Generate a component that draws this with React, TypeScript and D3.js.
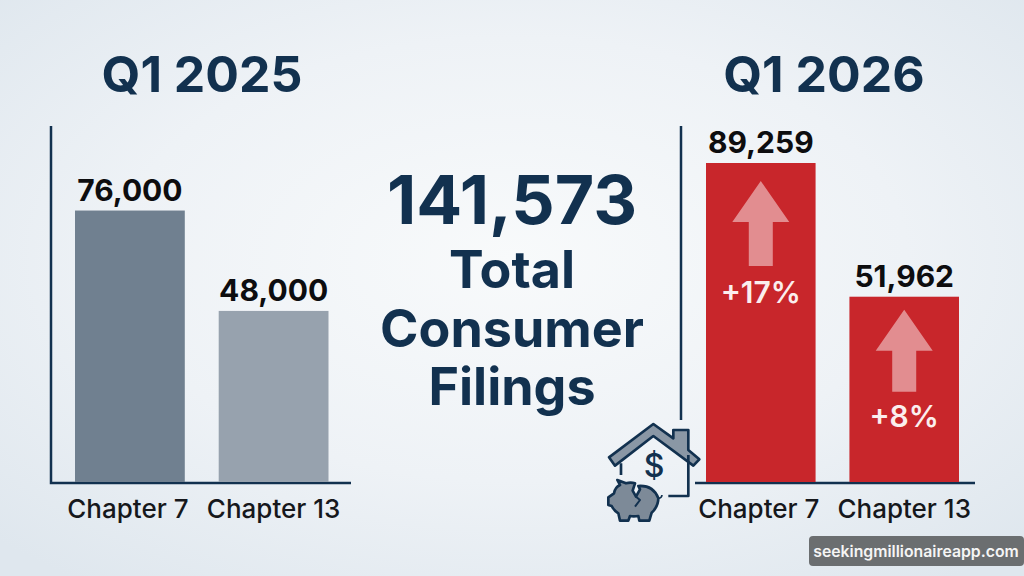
import * as d3 from 'd3';

const chapters = ['Chapter 7', 'Chapter 13'];
const filings2025 = [76000, 48000];
const filings2026 = [89259, 51962];
const changes2026 = ['+17%', '+8%'];
const colors2025 = ['#708090', '#97a2ae'];
const totalLines = ['Total', 'Consumer', 'Filings'];

const NAVY = '#12314f';
const FONT = 'Inter, "Noto Sans", sans-serif';
const fmt = d3.format(',');

const y = d3.scaleLinear().domain([0, 100000]).range([483, 124.5]);
const x2025 = d3.scaleBand().domain(chapters).range([75, 328.5]).paddingInner(0.236);
const x2026 = d3.scaleBand().domain(chapters).range([706, 959]).paddingInner(0.236);

// icon drawn in a 3x space, scaled down at the group level
function HouseIcon() {
  return (
    <g transform="translate(590,400) scale(0.3333)" stroke={NAVY} strokeWidth={8} strokeLinejoin="round" fill="none">
      <path d="M57,172 L190,72 L250,115 L250,90 L295,90 L295,150 L328,178 L310,197 L190,108 L75,197 Z" fill="#8a97a5" />
      <path d="M93,190 L93,225 M295,165 L295,288 L235,288" />
      <text x={192} y={232} fontFamily={FONT} fontSize={96} fontWeight={500} textAnchor="middle" fill={NAVY} stroke="none">$</text>
      <path d="M82,240 L108,250 Q122,246 135,250 L128,272 L138,290 L150,268 L145,258 Q190,255 205,295 Q205,320 185,338 L178,362 L148,362 L145,348 Q130,350 120,348 L115,362 L90,362 L85,340 Q72,332 65,318 L55,315 L55,292 L72,280 Q75,262 90,255 Z" fill="#7d8a98" />
      <path d="M138,290 L150,300 L135,320" strokeWidth={6} />
      <path d="M205,295 Q215,295 216,285" strokeWidth={5} />
    </g>
  );
}

function Arrow({ cx, top, bottom }: { cx: number; top: number; bottom: number }) {
  const path = d3.path();
  const head = 41;
  path.moveTo(cx, top);
  path.lineTo(cx + 28.5, top + head);
  path.lineTo(cx + 12, top + head);
  path.lineTo(cx + 12, bottom);
  path.lineTo(cx - 12, bottom);
  path.lineTo(cx - 12, top + head);
  path.lineTo(cx - 28.5, top + head);
  path.closePath();
  return <path d={path.toString()} fill="#ffffff" fillOpacity={0.48} />;
}

export default function App() {
  return (
    <svg width={1024} height={576} style={{ position: 'absolute', left: 0, top: 0 }} fontFamily={FONT}>
      <defs>
        <radialGradient id="bg" cx="50%" cy="45%" r="70%">
          <stop offset="0%" stopColor="#f8fafb" />
          <stop offset="55%" stopColor="#eef2f6" />
          <stop offset="100%" stopColor="#dfe7ee" />
        </radialGradient>
      </defs>
      <rect width={1024} height={576} fill="url(#bg)" />

      <text x={202} y={92} textAnchor="middle" fontSize={50} fontWeight={700} fill={NAVY}>Q1 2025</text>
      <text x={824} y={92} textAnchor="middle" fontSize={50} fontWeight={700} fill={NAVY}>Q1 2026</text>

      {/* left panel */}
      <path d="M51,126 V483 H351" fill="none" stroke={NAVY} strokeWidth={2.5} />
      {chapters.map((c, i) => (
        <g key={c}>
          <rect x={x2025(c)} y={y(filings2025[i])} width={x2025.bandwidth()} height={y(0) - y(filings2025[i]) - 1} fill={colors2025[i]} />
          <text x={x2025(c)! + x2025.bandwidth() / 2} y={y(filings2025[i]) - 10} textAnchor="middle" fontSize={30} fontWeight={700} fill="#0d0d0f">{fmt(filings2025[i])}</text>
          <text x={x2025(c)! + x2025.bandwidth() / 2 - (i ? 0 : 2)} y={518} textAnchor="middle" fontSize={26} fontWeight={500} fill="#16181c">{c}</text>
        </g>
      ))}

      {/* center total */}
      <text x={512} y={224} textAnchor="middle" fontSize={68} fontWeight={700} fill={NAVY}>141,573</text>
      {totalLines.map((line, i) => (
        <text key={line} x={512} y={288 + i * 58.5} textAnchor="middle" fontSize={52} fontWeight={700} fill={NAVY}>{line}</text>
      ))}

      {/* right panel */}
      <path d="M681,126 V420" fill="none" stroke={NAVY} strokeWidth={2.5} />
      <path d="M695,483 H975" fill="none" stroke={NAVY} strokeWidth={2.5} />
      {chapters.map((c, i) => {
        const top = y(filings2026[i]);
        const cx = x2026(c)! + x2026.bandwidth() / 2;
        return (
          <g key={c}>
            <rect x={x2026(c)} y={top} width={x2026.bandwidth()} height={y(0) - top - 1} fill="#c8262b" />
            <text x={cx} y={top - 10} textAnchor="middle" fontSize={30} fontWeight={700} fill="#0d0d0f">{fmt(filings2026[i])}</text>
            <Arrow cx={cx} top={top + (i ? 13 : 18)} bottom={top + (i ? 95 : 103)} />
            <text x={cx} y={top + (i ? 130 : 140)} textAnchor="middle" fontSize={30} fontWeight={600} fill="#fbeeee">{changes2026[i]}</text>
            <text x={cx - (i ? 0 : 2)} y={518} textAnchor="middle" fontSize={26} fontWeight={500} fill="#16181c">{c}</text>
          </g>
        );
      })}
      <HouseIcon />

      {/* site tag */}
      <rect x={809} y={536} width={215} height={30} rx={4} fill="#6b6e70" />
      <text x={916} y={557} textAnchor="middle" fontSize={15.8} fontWeight={600} fill="#f5f5f5">seekingmillionaireapp.com</text>
    </svg>
  );
}
